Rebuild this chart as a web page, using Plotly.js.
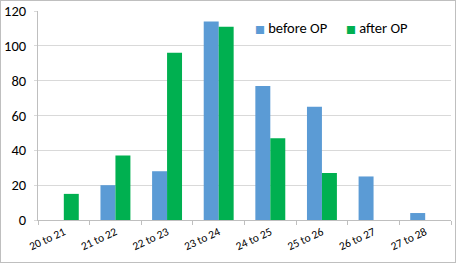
<!DOCTYPE html>
<html><head><meta charset="utf-8">
<script src="https://cdn.plot.ly/plotly-3.0.1.min.js"></script>
<style>html,body{margin:0;padding:0;background:#fff;}#c{width:454px;height:261px;border:1px solid #bfbfbf;}</style>
</head><body><div id="c"></div>
<script>
var categories = ["20 to 21","21 to 22","22 to 23","23 to 24","24 to 25","25 to 26","26 to 27","27 to 28"];
var beforeOP = [0,20,28,114,77,65,25,4];
var afterOP = [15,37,96,111,47,27,0,0];
var seriesNames = ["before OP","after OP"];
var seriesColors = ["#5B9BD5","#00B050"];
var fnt = "Carlito, 'Liberation Sans', 'Open Sans', sans-serif";
function legName(i){ return '<span style="color:'+seriesColors[i]+';font-size:10.5px;font-family:DejaVu Sans">■</span> '+seriesNames[i]; }
var data = [
 {type:"bar", x:categories, y:beforeOP, name:seriesNames[0], marker:{color:seriesColors[0]}, showlegend:false},
 {type:"bar", x:categories, y:afterOP, name:seriesNames[1], marker:{color:seriesColors[1]}, showlegend:false},
 {type:"scatter", mode:"markers", x:[null], y:[null], name:legName(0), marker:{size:1, color:"rgba(0,0,0,0)", line:{width:0}}, legend:"legend"},
 {type:"scatter", mode:"markers", x:[null], y:[null], name:legName(1), marker:{size:1, color:"rgba(0,0,0,0)", line:{width:0}}, legend:"legend2"}
];
var legBase = {orientation:"h", yanchor:"middle", xanchor:"left", font:{size:14.5}, bgcolor:"rgba(0,0,0,0)", itemwidth:30, borderwidth:0};
var layout = {
 width:454, height:261,
 margin:{l:37,r:4,t:10,b:42},
 paper_bgcolor:"#fff", plot_bgcolor:"#fff",
 barmode:"group", bargap:0.42, bargroupgap:0,
 font:{family:fnt, color:"#000"},
 xaxis:{type:"category", tickangle:-25, tickfont:{size:11.5}, showline:true, linecolor:"#bfbfbf", ticks:"outside", tickson:"boundaries", ticklen:4, tickcolor:"#bfbfbf", showgrid:false, automargin:false, range:[-0.5,7.5]},
 yaxis:{range:[0,120], dtick:20, tickfont:{size:14.5}, showline:true, linecolor:"#bfbfbf", gridcolor:"#d9d9d9", ticks:"outside", ticklen:3, tickcolor:"#d9d9d9", zeroline:false, automargin:false, ticklabelstandoff:5},
 legend:Object.assign({}, legBase, {x:0.4286, y:0.923}),
 legend2:Object.assign({}, legBase, {x:0.649, y:0.923}),
 showlegend:true
};
Plotly.newPlot("c", data, layout, {displayModeBar:false, staticPlot:true});
</script></body></html>
